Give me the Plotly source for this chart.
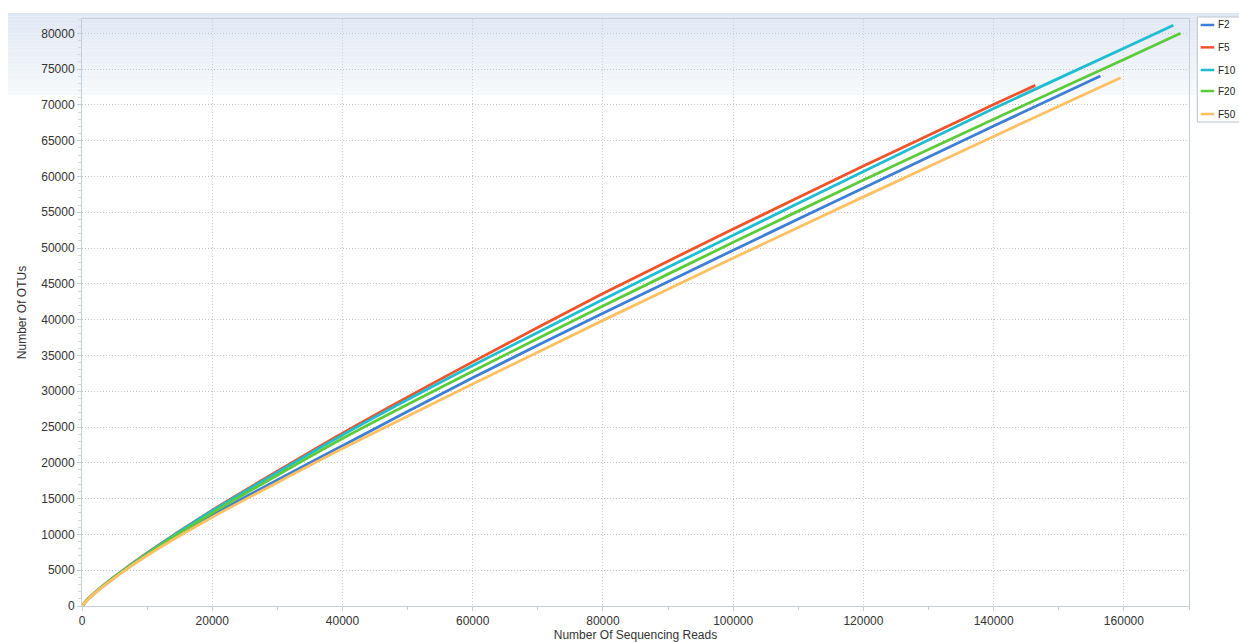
import plotly.graph_objects as go

x_F2 = [0, 1000, 2500, 5000, 10000, 20000, 40000, 60000, 80000, 100000, 120000, 140000, 156400]
y_F2 = [0, 1000, 2200, 3980, 7150, 12700, 22400, 31900, 40900, 49700, 58400, 67050, 74030]

x_F5 = [0, 1000, 2500, 5000, 10000, 20000, 40000, 60000, 80000, 100000, 120000, 140000, 146400]
y_F5 = [0, 1050, 2300, 4120, 7430, 13400, 24150, 34100, 43650, 52650, 61450, 70050, 72730]

x_F10 = [0, 1000, 2500, 5000, 10000, 20000, 40000, 60000, 80000, 100000, 120000, 140000, 160000, 167600]
y_F10 = [0, 1040, 2270, 4080, 7350, 13300, 23900, 33600, 42800, 51800, 60700, 69500, 77900, 81120]

x_F20 = [0, 1000, 2500, 5000, 10000, 20000, 40000, 60000, 80000, 100000, 120000, 140000, 160000, 168700]
y_F20 = [0, 1020, 2240, 4030, 7250, 13000, 23400, 32800, 41900, 50800, 59500, 68000, 76350, 80000]

x_F50 = [0, 1000, 2500, 5000, 10000, 20000, 40000, 60000, 80000, 100000, 120000, 140000, 159500]
y_F50 = [0, 990, 2180, 3930, 7050, 12400, 22000, 31000, 39900, 48600, 57150, 65600, 73800]

series_names = ["F2", "F5", "F10", "F20", "F50"]
series_x = [x_F2, x_F5, x_F10, x_F20, x_F50]
series_y = [y_F2, y_F5, y_F10, y_F20, y_F50]
colors = ["#3d7fd6", "#f0522a", "#1fbdd2", "#5ccb3a", "#ffc062"]

fig = go.Figure()
for name, xs, ys, c in zip(series_names, series_x, series_y, colors):
    fig.add_trace(go.Scatter(x=xs, y=ys, mode="lines", name=name, showlegend=False,
                             line=dict(color=c, width=2.8, shape="spline", smoothing=0.6)))

# background gradient band at top of chart
top_c = (224, 231, 244)
bot_c = (246, 249, 251)
n = 24
y0p, y1p = 1.0102, 0.8705
for i in range(n):
    t = i / (n - 1)
    col = tuple(int(round(top_c[k] + (bot_c[k] - top_c[k]) * t)) for k in range(3))
    ya = y0p - (y0p - y1p) * i / n
    yb = y0p - (y0p - y1p) * (i + 1) / n
    fig.add_shape(type="rect", xref="paper", yref="paper", x0=-0.0668, x1=1.06,
                  y0=yb, y1=ya, fillcolor="rgb(%d,%d,%d)" % col, line=dict(width=0),
                  layer="below")

# compact legend (box, swatches, labels) at the right edge
fig.add_shape(type="rect", xref="paper", yref="paper", x0=1.0075, x1=1.07,
              y0=0.8245, y1=1.0034, fillcolor="#ffffff",
              line=dict(color="#b8c4d0", width=1), layer="above")
leg_y = [0.9898, 0.9517, 0.9131, 0.8773, 0.8381]
for name, c, ly in zip(series_names, colors, leg_y):
    fig.add_shape(type="line", xref="paper", yref="paper", x0=1.0105, x1=1.0228,
                  y0=ly, y1=ly, line=dict(color=c, width=2.5), layer="above")
    fig.add_annotation(xref="paper", yref="paper", x=1.0255, y=ly, text=name,
                       showarrow=False, xanchor="left", yanchor="middle", borderpad=0,
                       font=dict(size=10, color="#222222"))

fig.update_layout(
    width=1239, height=642,
    margin=dict(l=82, r=50, t=19, b=36, autoexpand=False),
    paper_bgcolor="rgba(0,0,0,0)",
    plot_bgcolor="rgba(0,0,0,0)",
    font=dict(family="Liberation Sans, Arial, sans-serif", size=12, color="#333333"),
    showlegend=False,
    xaxis=dict(range=[0, 170000], tickvals=[0, 20000, 40000, 60000, 80000, 100000, 120000, 140000, 160000],
               tickformat="d", showgrid=True, gridcolor="#c8d2dc", griddash="1px,2px", gridwidth=1,
               showline=True, linecolor="#c3ced8", mirror=True, zeroline=False,
               ticks="outside", ticklen=4, tickcolor="#c3ced8",
               minor=dict(dtick=10000, tick0=0, ticklen=3, tickcolor="#c3ced8", ticks="outside", showgrid=False),
               title=dict(text="Number Of Sequencing Reads", standoff=2, font=dict(size=12)),
               tickfont=dict(size=12)),
    yaxis=dict(range=[0, 82000], dtick=5000, tick0=0, tickformat="d",
               showgrid=True, gridcolor="#bfc5cc", griddash="1px,2px", gridwidth=1,
               showline=True, linecolor="#c3ced8", mirror=True, zeroline=False,
               ticks="outside", ticklen=4, tickcolor="#c3ced8",
               minor=dict(dtick=1000, tick0=0, ticklen=3, tickcolor="#d0d8e0", ticks="outside", showgrid=False),
               title=dict(text="Number Of OTUs", standoff=12, font=dict(size=12)),
               tickfont=dict(size=12)),
)

fig.write_html("out.html", config={"displayModeBar": False},
               post_script="document.body.style.margin='0';document.body.style.overflow='hidden';")
